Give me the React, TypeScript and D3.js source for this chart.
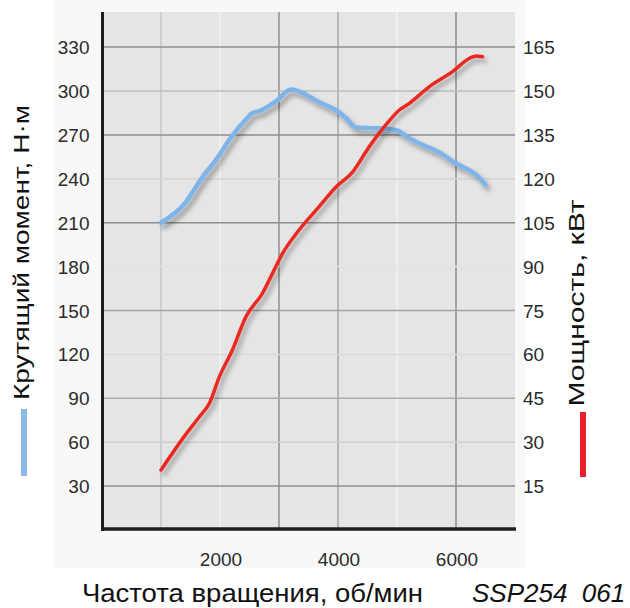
import React from "react";
import * as d3 from "d3";

const torqueRpm = [1000, 1400, 1700, 1950, 2200, 2450, 2550, 2650, 2950, 3200, 3700, 4000, 4150, 4300, 4700, 5000, 5200, 5500, 5650, 6000, 6350, 6500];
const torqueNm = [210, 223, 241, 254, 269, 281, 285, 286, 293, 301, 292, 286, 281, 275, 274.5, 273, 268, 262, 259.5, 250.5, 242.5, 236];

const powerRpm = [1000, 1370, 1650, 1820, 1990, 2210, 2440, 2720, 2890, 3060, 3340, 3680, 3970, 4250, 4530, 4810, 5040, 5210, 5550, 5940, 6230, 6340, 6450];
const powerKw = [20.5, 31.3, 38.7, 43.3, 52.4, 61.5, 72.9, 80.9, 87.7, 94.5, 102.5, 110.5, 117.3, 122.4, 131, 138.4, 143.5, 145.8, 151.5, 156.6, 161.2, 162, 161.7];

const leftTicks = [30, 60, 90, 120, 150, 180, 210, 240, 270, 300, 330];
const rightTicks = [15, 30, 45, 60, 75, 90, 105, 120, 135, 150, 165];
const xLabelTicks = [2000, 4000, 6000];
const xGridTicks = [1000, 2000, 3000, 4000, 5000, 6000];

const xGridTone: Record<number, string> = {
  1000: "#c6c6c6", 2000: "#f2f2f2", 3000: "#8e8e8e", 4000: "#a9a9a9", 5000: "#f2f2f2", 6000: "#8e8e8e",
};
const yGridTone: Record<number, string> = {
  30: "#8e8e8e", 60: "#cfcfcf", 90: "#adadad", 120: "#dadada", 150: "#a4a4a4", 180: "#e4e4e4",
  210: "#8e8e8e", 240: "#d4d4d4", 270: "#8e8e8e", 300: "#bdbdbd", 330: "#8e8e8e",
};

const xTitle = "Частота вращения, об/мин";
const leftTitle = "Крутящий момент, Н·м";
const rightTitle = "Мощность, кВт";
const code = "SSP254  061";

export default function App() {
  const L = 102, R = 515, T = 12, B = 530;
  const x = d3.scaleLinear().domain([0, 7000]).range([L, R]);
  const yL = d3.scaleLinear().domain([0, 354]).range([B, T]);
  const yR = d3.scaleLinear().domain([0, 177]).range([B, T]);

  const torqueLine = d3.line<number>()
    .x((_, i) => x(torqueRpm[i]))
    .y((d) => yL(d))
    .curve(d3.curveMonotoneX)(torqueNm) || "";
  const powerLine = d3.line<number>()
    .x((_, i) => x(powerRpm[i]))
    .y((d) => yR(d))
    .curve(d3.curveMonotoneX)(powerKw) || "";

  const font = "'Liberation Sans', Arial, Helvetica, sans-serif";

  return (
    <svg width={630} height={608} style={{ position: "absolute", left: 0, top: 0 }} fontFamily={font}>
      <defs>
        <filter id="shadow" x="-10%" y="-10%" width="130%" height="130%">
          <feGaussianBlur in="SourceAlpha" stdDeviation="2.5" />
          <feOffset dx="3" dy="4" result="off" />
          <feComponentTransfer>
            <feFuncA type="linear" slope="0.35" />
          </feComponentTransfer>
          <feMerge>
            <feMergeNode />
            <feMergeNode in="SourceGraphic" />
          </feMerge>
        </filter>
      </defs>
      <rect x={0} y={0} width={630} height={608} fill="#ffffff" />
      <rect x={53} y={0} width={472} height={568} fill="#f8f8f8" />
      <rect x={L} y={T} width={R - L} height={B - T} fill="#e5e5e5" />

      {xGridTicks.map((t) => (
        <line key={"vx" + t} x1={x(t)} x2={x(t)} y1={T} y2={B} stroke={xGridTone[t]} strokeWidth={1.5} />
      ))}
      {leftTicks.map((t) => (
        <line key={"hy" + t} x1={L} x2={R} y1={yL(t)} y2={yL(t)} stroke={yGridTone[t]} strokeWidth={1.5} />
      ))}

      <path d={torqueLine} fill="none" stroke="#7fb4e8" strokeWidth={4.5} strokeLinejoin="round" strokeLinecap="round" filter="url(#shadow)" />
      <path d={powerLine} fill="none" stroke="#ea2b22" strokeWidth={3.5} strokeLinejoin="round" strokeLinecap="round" filter="url(#shadow)" />

      <line x1={L + 0.5} x2={L + 0.5} y1={T} y2={B + 1} stroke="#1e1e1e" strokeWidth={3} />
      <line x1={L - 1} x2={R + 1} y1={B - 1} y2={B - 1} stroke="#1e1e1e" strokeWidth={3.5} />

      {leftTicks.map((t) => (
        <text key={"lt" + t} x={89.5} y={yL(t) + 7} textAnchor="end" fontSize={19} fill="#2b2b2b">{t}</text>
      ))}
      {rightTicks.map((t) => (
        <text key={"rt" + t} x={523} y={yR(t) + 7} textAnchor="start" fontSize={19} fill="#2b2b2b">{t}</text>
      ))}
      {xLabelTicks.map((t) => (
        <text key={"xt" + t} x={x(t) + 1} y={566} textAnchor="middle" fontSize={19} fill="#2b2b2b">{t}</text>
      ))}

      <text x={82} y={601.5} fontSize={25.5} fill="#111" textLength={341} lengthAdjust="spacingAndGlyphs">{xTitle}</text>
      <text x={472} y={602} fontSize={26} fontStyle="italic" fill="#111" style={{ whiteSpace: "pre" }}>{code}</text>

      <text transform={`translate(28.5,400) rotate(-90)`} fontSize={22} fill="#111" textLength={295} lengthAdjust="spacingAndGlyphs">{leftTitle}</text>
      <text transform={`translate(583.5,406.5) rotate(-90)`} fontSize={22} fill="#111" textLength={207} lengthAdjust="spacingAndGlyphs">{rightTitle}</text>

      <rect x={21} y={409} width={6} height={67} fill="#8db9e6" />
      <rect x={580} y={412} width={6} height={65} fill="#e8202a" />
    </svg>
  );
}
